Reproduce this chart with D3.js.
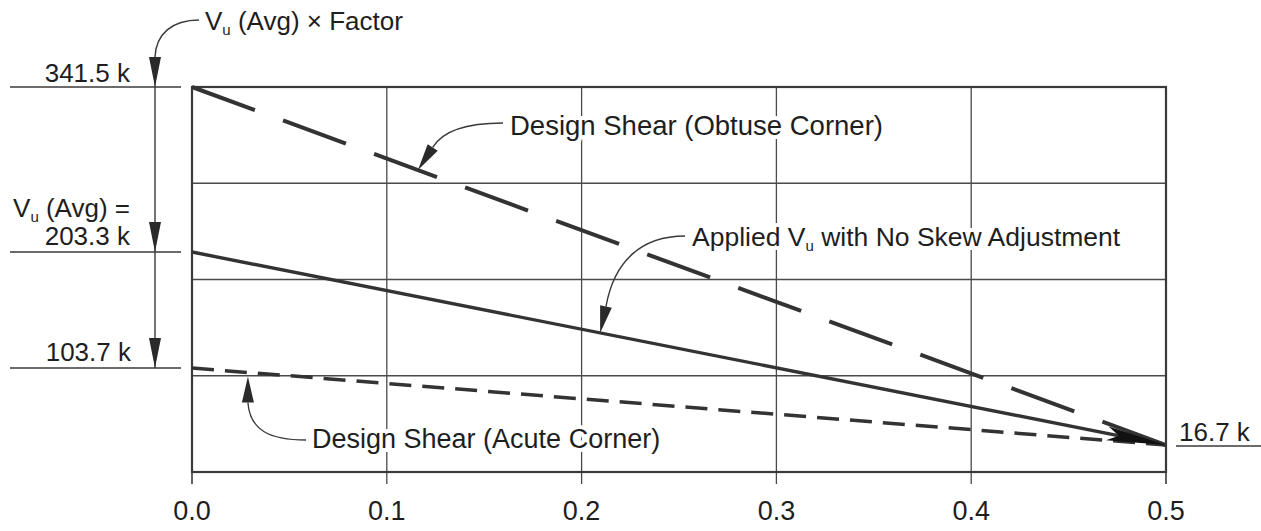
<!DOCTYPE html>
<html>
<head>
<meta charset="utf-8">
<script src="https://cdn.jsdelivr.net/npm/d3@7"></script>
<style>
  body { margin: 0; background: #fff; }
  svg text { font-family: "Liberation Sans", Arial, Helvetica, sans-serif; fill: #1e1e1e; }
</style>
</head>
<body>
<figure id="figure" style="margin:0"></figure>
<script>
// x ticks
const xTicks = [0.0, 0.1, 0.2, 0.3, 0.4, 0.5];
// labelled shear values (k) and where they sit on the (not to scale) y axis, as a fraction of plot height from top
const yKeys = [341.5, 203.3, 103.7, 16.7, 0];
const yFrac = [0, 0.4286, 0.73, 0.93, 1];
const gridBands = 4;

// lines: [x, shear]
const obtuse = [[0.0, 341.5], [0.5, 16.7]];
const applied = [[0.0, 203.3], [0.5, 16.7]];
const acute = [[0.0, 103.7], [0.5, 16.7]];

const W = 1261, H = 531;
const margin = { left: 192, top: 87 };
const width = 974, height = 385;

const svg = d3.select("figure#figure").append("svg")
  .attr("width", W).attr("height", H);

const x = d3.scaleLinear().domain([0, 0.5]).range([margin.left, margin.left + width]);
const y = d3.scaleLinear().domain(yKeys).range(yFrac.map(f => margin.top + f * height));
const gy = d3.scaleLinear().domain([0, gridBands]).range([margin.top + height, margin.top]);

const ink = "#333";

// grid
const grid = svg.append("g").attr("stroke", "#4a4a4a").attr("stroke-width", 1.3);
grid.selectAll("line.v").data(xTicks.slice(1, -1)).enter().append("line")
  .attr("x1", d => x(d)).attr("x2", d => x(d))
  .attr("y1", margin.top).attr("y2", margin.top + height + 12);
grid.selectAll("line.h").data(d3.range(1, gridBands)).enter().append("line")
  .attr("x1", x(0)).attr("x2", x(0.5))
  .attr("y1", d => gy(d)).attr("y2", d => gy(d));

// frame
svg.append("rect")
  .attr("x", x(0)).attr("y", margin.top).attr("width", width).attr("height", height)
  .attr("fill", "none").attr("stroke", "#3a3a3a").attr("stroke-width", 2.2);
svg.selectAll("line.tick").data([0, 0.5]).enter().append("line")
  .attr("x1", d => x(d)).attr("x2", d => x(d))
  .attr("y1", margin.top + height).attr("y2", margin.top + height + 12)
  .attr("stroke", "#3a3a3a").attr("stroke-width", 1.6);

// x labels
svg.selectAll("text.xl").data(xTicks).enter().append("text")
  .attr("x", d => x(d)).attr("y", 520)
  .attr("text-anchor", "middle").attr("font-size", 27)
  .text(d => d.toFixed(1));

// end arrow on the lines
svg.append("defs").append("marker")
  .attr("id", "tip").attr("markerUnits", "userSpaceOnUse")
  .attr("viewBox", "0 0 60 18").attr("refX", 60).attr("refY", 9)
  .attr("markerWidth", 60).attr("markerHeight", 18).attr("orient", "auto")
  .append("path").attr("d", "M0,2 L60,9 L0,16 L12,9 Z").attr("fill", "#111");

const line = d3.line().x(d => x(d[0])).y(d => y(d[1]));

svg.append("path").datum(acute).attr("d", line)
  .attr("fill", "none").attr("stroke", ink).attr("stroke-width", 3.5)
  .attr("stroke-dasharray", "22,11");
svg.append("path").datum(obtuse).attr("d", line)
  .attr("fill", "none").attr("stroke", ink).attr("stroke-width", 4)
  .attr("stroke-dasharray", "67,30");
svg.append("path").datum(applied).attr("d", line)
  .attr("fill", "none").attr("stroke", ink).attr("stroke-width", 3.4)
  .attr("marker-end", "url(#tip)");

// point on a projected line at x value t
function at(data, t) {
  const p0 = [x(data[0][0]), y(data[0][1])], p1 = [x(data[1][0]), y(data[1][1])];
  const k = (x(t) - p0[0]) / (p1[0] - p0[0]);
  return [p0[0] + k * (p1[0] - p0[0]), p0[1] + k * (p1[1] - p0[1])];
}

// narrow filled arrow head, tip at p, base in direction (dx,dy)
function head(p, dx, dy, len, hw) {
  const l = Math.hypot(dx, dy), ux = dx / l, uy = dy / l;
  const bx = p[0] + ux * len, by = p[1] + uy * len;
  svg.append("path")
    .attr("d", `M${p[0]},${p[1]} L${bx - uy * hw},${by + ux * hw} L${bx + uy * hw},${by - ux * hw} Z`)
    .attr("fill", "#2a2a2a");
  return [bx, by];
}

function leader(d) {
  svg.append("path").attr("d", d).attr("fill", "none")
    .attr("stroke", "#3a3a3a").attr("stroke-width", 1.4);
}

// parts: plain strings, or {u: "..."} for a subscript
function label(tx, ty, parts, anchor, size) {
  const t = svg.append("text").attr("x", tx).attr("y", ty)
    .attr("font-size", size || 26).attr("text-anchor", anchor || "start")
    .attr("stroke", "#fff").attr("stroke-width", 8).attr("paint-order", "stroke");
  parts.forEach(p => {
    if (typeof p === "object") {
      t.append("tspan").attr("font-size", 15).attr("dy", 5).text(p.u);
      t.append("tspan").attr("dy", -5).text(p.after);
    } else {
      t.append("tspan").text(p);
    }
  });
  return t;
}

// left dimension lines
const dimX = 155;
svg.selectAll("line.dim").data(yKeys.slice(0, 3)).enter().append("line")
  .attr("x1", 10).attr("x2", 181)
  .attr("y1", d => y(d)).attr("y2", d => y(d))
  .attr("stroke", "#3a3a3a").attr("stroke-width", 1.6);
svg.append("line")
  .attr("x1", dimX).attr("x2", dimX).attr("y1", y(341.5) - 30).attr("y2", y(103.7))
  .attr("stroke", "#3a3a3a").attr("stroke-width", 1.4);
yKeys.slice(0, 3).forEach(v => head([dimX, y(v)], 0, -1, 30, 6));

leader(`M${dimX},${y(341.5) - 30} C${dimX + 1},34 ${dimX + 17},20 199,20`);
label(205, 30, ["V", { u: "u", after: " (Avg) \u00d7 Factor" }]);
label(130, y(341.5) - 5, ["341.5 k"], "end");
label(130, 217, ["V", { u: "u", after: " (Avg) =" }], "end");
label(130, y(203.3) - 7, ["203.3 k"], "end");
label(131, y(103.7) - 7, ["103.7 k"], "end");

// right end value
label(1179, y(16.7) - 4, ["16.7 k"]);
svg.append("line").attr("x1", 1176).attr("x2", W).attr("y1", y(16.7) + 1).attr("y2", y(16.7) + 1)
  .attr("stroke", "#3a3a3a").attr("stroke-width", 1.6);

// callouts
let b = head(at(obtuse, 0.116), 15, -23, 27, 6);
leader(`M${b[0]},${b[1]} C${b[0] + 10},${b[1] - 17} ${b[0] + 35},123 503,123`);
label(510, 135, ["Design Shear (Obtuse Corner)"], "start", 27.5);

b = head(at(applied, 0.2095), 6, -27, 27, 6);
leader(`M${b[0]},${b[1]} C${b[0] + 8},${b[1] - 45} ${b[0] + 35},236 685,236`);
label(692, 246, ["Applied V", { u: "u", after: " with No Skew Adjustment" }], "start", 26.5);

b = head(at(acute, 0.0287).map((v, i) => i ? v + 4 : v), 0, 1, 26, 6);
leader(`M${b[0]},${b[1]} C${b[0] + 2},${b[1] + 28} ${b[0] + 22},440 306,440`);
label(312, 448, ["Design Shear (Acute Corner)"], "start", 27);
</script>
</body>
</html>
